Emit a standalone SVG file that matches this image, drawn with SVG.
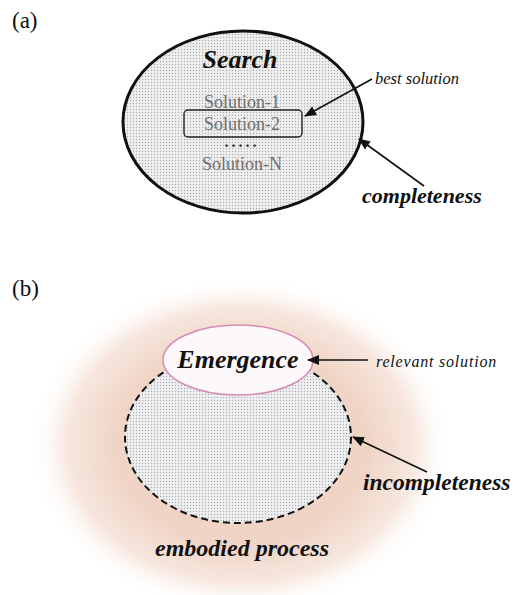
<svg xmlns="http://www.w3.org/2000/svg" width="517" height="595" viewBox="0 0 517 595">
  <style>
    .lbl { font-family: "Liberation Serif", "Times New Roman", serif; fill: #111; }
    .bi { font-family: "Liberation Serif", "Times New Roman", serif; font-weight: bold; font-style: italic; fill: #111; }
    .it { font-family: "Liberation Serif", "Times New Roman", serif; font-style: italic; fill: #111; }
    .sol { font-family: "Liberation Serif", "Times New Roman", serif; font-size: 18px; fill: #707070; text-anchor: middle; }
    .conn { stroke: #111; stroke-width: 1.6; fill: none; marker-end: url(#ah); }
  </style>
  <defs>
    <pattern id="dots" width="3" height="3" patternUnits="userSpaceOnUse">
      <rect width="3" height="3" fill="#efefef"/>
      <circle cx="1.5" cy="1.5" r="0.7" fill="#aaaaaa"/>
    </pattern>
    <pattern id="dotsb" width="3" height="3" patternUnits="userSpaceOnUse">
      <rect width="3" height="3" fill="#eef0f2"/>
      <circle cx="1.5" cy="1.5" r="0.7" fill="#a8aaad"/>
    </pattern>
    <radialGradient id="glow" cx="0.5" cy="0.5" r="0.5">
      <stop offset="0" stop-color="#efd2c3"/>
      <stop offset="0.6" stop-color="#f0d5c7"/>
      <stop offset="0.82" stop-color="#f7e7de"/>
      <stop offset="1" stop-color="#ffffff" stop-opacity="0"/>
    </radialGradient>
    <marker id="ah" viewBox="0 0 12 10" refX="11" refY="5" markerWidth="12" markerHeight="10" markerUnits="userSpaceOnUse" orient="auto">
      <path d="M0,0 L12,5 L0,10 Z" fill="#111"/>
    </marker>
  </defs>

  <rect width="517" height="595" fill="#ffffff"/>

  <!-- Panel (a) -->
  <text class="lbl" x="12" y="28" font-size="23">(a)</text>

  <g id="search">
    <ellipse cx="243" cy="122" rx="120" ry="91" fill="url(#dots)" stroke="#111" stroke-width="3"/>
    <text class="bi" x="240" y="68" font-size="26" text-anchor="middle">Search</text>
  </g>
  <g id="solution-1">
    <text class="sol" x="242" y="108">Solution-1</text>
  </g>
  <g id="solution-2">
    <rect x="184" y="110" width="118" height="27" rx="4" fill="none" stroke="#222" stroke-width="1.4"/>
    <text class="sol" x="242" y="130">Solution-2</text>
  </g>
  <g id="dots-sep">
    <text x="242" y="147" font-family="Liberation Serif, serif" font-size="16" font-weight="bold" fill="#333" text-anchor="middle" letter-spacing="3">.....</text>
  </g>
  <g id="solution-n">
    <text class="sol" x="242" y="170">Solution-N</text>
  </g>
  <g id="best-solution">
    <text class="it" x="375" y="84" font-size="16.5">best solution</text>
  </g>
  <g id="completeness">
    <text class="bi" x="362" y="203" font-size="22">completeness</text>
  </g>

  <!-- Panel (b) -->
  <text class="lbl" x="12" y="296" font-size="23">(b)</text>

  <g id="embodied-process">
    <ellipse cx="241" cy="445" rx="212" ry="168" fill="url(#glow)"/>
    <text class="bi" x="242" y="556" font-size="24" text-anchor="middle">embodied process</text>
  </g>
  <g id="incomplete-space">
    <ellipse cx="238" cy="437" rx="113" ry="86" fill="url(#dotsb)" stroke="#111" stroke-width="2" stroke-dasharray="7 4"/>
  </g>
  <g id="emergence">
    <ellipse cx="238" cy="360" rx="75" ry="35" fill="#fdf8fa" stroke="#d88cb4" stroke-width="1.5"/>
    <text class="bi" x="238" y="368" font-size="26" text-anchor="middle">Emergence</text>
  </g>
  <g id="relevant-solution">
    <text class="it" x="376" y="367" font-size="16" letter-spacing="0.8">relevant solution</text>
  </g>
  <g id="incompleteness">
    <text class="bi" x="363" y="490" font-size="23.5">incompleteness</text>
  </g>

  <g id="connectors">
    <line class="conn" x1="372" y1="79" x2="305" y2="116"/>
    <line class="conn" x1="424" y1="186" x2="359" y2="139"/>
    <line class="conn" x1="368" y1="360" x2="308" y2="360"/>
    <line class="conn" x1="427" y1="472" x2="353" y2="437"/>
  </g>
</svg>
